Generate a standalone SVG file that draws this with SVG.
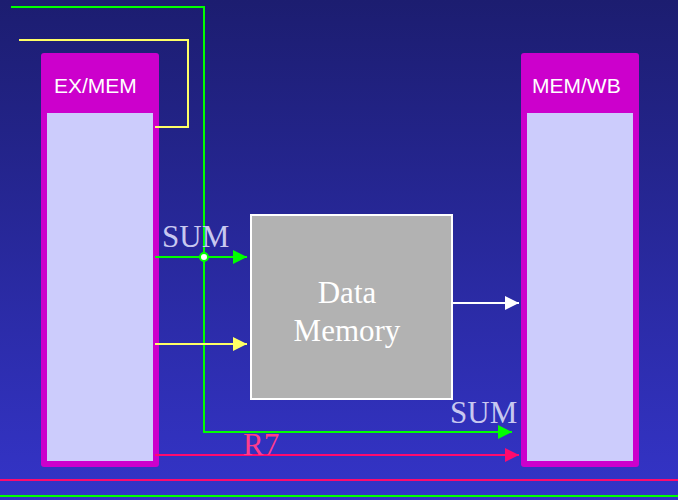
<svg xmlns="http://www.w3.org/2000/svg" width="678" height="500" viewBox="0 0 678 500">
<defs>
<linearGradient id="bg" x1="0" y1="0" x2="0" y2="1">
<stop offset="0" stop-color="#1c1d70"/>
<stop offset="1" stop-color="#3434c8"/>
</linearGradient>
<marker id="ag" viewBox="0 0 10 10" refX="10" refY="5" markerUnits="userSpaceOnUse" markerWidth="14" markerHeight="14" orient="auto"><path d="M0,0 L10,5 L0,10 Z" fill="#00ff00"/></marker>
<marker id="ay" viewBox="0 0 10 10" refX="10" refY="5" markerUnits="userSpaceOnUse" markerWidth="14" markerHeight="14" orient="auto"><path d="M0,0 L10,5 L0,10 Z" fill="#ffff66"/></marker>
<marker id="aw" viewBox="0 0 10 10" refX="10" refY="5" markerUnits="userSpaceOnUse" markerWidth="14" markerHeight="14" orient="auto"><path d="M0,0 L10,5 L0,10 Z" fill="#ffffff"/></marker>
<marker id="ar" viewBox="0 0 10 10" refX="10" refY="5" markerUnits="userSpaceOnUse" markerWidth="14" markerHeight="14" orient="auto"><path d="M0,0 L10,5 L0,10 Z" fill="#ff0a6e"/></marker>
</defs>
<style>
.reg{fill:#cc00cc}
.inner{fill:#ccccfc}
.rlab{font-family:"Liberation Sans",Arial,sans-serif;font-size:21px;fill:#ffffff}
.lab{font-family:"Liberation Serif","Times New Roman",serif;font-size:31px}
.g{stroke:#00ff00;stroke-width:2;fill:none}
.y{stroke:#ffff66;stroke-width:2;fill:none}
.w{stroke:#ffffff;stroke-width:2;fill:none}
.r{stroke:#ff0a6e;stroke-width:2;fill:none}
</style>
<rect width="678" height="500" fill="url(#bg)"/>
<g id="exmem">
<rect class="reg" x="41" y="53" width="118" height="414" rx="3"/>
<rect class="inner" x="47" y="113" width="106" height="348"/>
<text class="rlab" x="54" y="93">EX/MEM</text>
</g>
<g id="memwb">
<rect class="reg" x="521" y="53" width="118" height="414" rx="3"/>
<rect class="inner" x="527" y="113" width="106" height="348"/>
<text class="rlab" x="532" y="93">MEM/WB</text>
</g>
<g id="datamem">
<rect x="251" y="215" width="201" height="184" fill="#b2b2b2" stroke="#ffffff" stroke-width="2"/>
<text class="lab" x="347" y="303" text-anchor="middle" font-size="30" fill="#ffffff">Data</text>
<text class="lab" x="347" y="341" text-anchor="middle" font-size="30" fill="#ffffff">Memory</text>
</g>
<g id="connectors">
<polyline class="g" points="11,7 204,7 204,432 512,432" marker-end="url(#ag)"/>
<line class="g" x1="155" y1="257" x2="247" y2="257" marker-end="url(#ag)"/>
<circle cx="204" cy="257" r="4" fill="#ffffff" stroke="#00ff00" stroke-width="2"/>
<polyline class="y" points="19,40 188,40 188,127 155,127"/>
<line class="y" x1="155" y1="344" x2="247" y2="344" marker-end="url(#ay)"/>
<line class="w" x1="453" y1="303" x2="519" y2="303" marker-end="url(#aw)"/>
<line class="r" x1="155" y1="455" x2="519" y2="455" marker-end="url(#ar)"/>
<line x1="0" y1="480" x2="678" y2="480" stroke="#ff0a6e" stroke-width="2"/>
<line x1="0" y1="496" x2="678" y2="496" stroke="#00ff00" stroke-width="2"/>
</g>
<text class="lab" x="162" y="247" fill="#c8c8f0">SUM</text>
<text class="lab" x="450" y="423" fill="#c8c8f0">SUM</text>
<text class="lab" x="243" y="455" fill="#ff3c8c">R7</text>
</svg>
